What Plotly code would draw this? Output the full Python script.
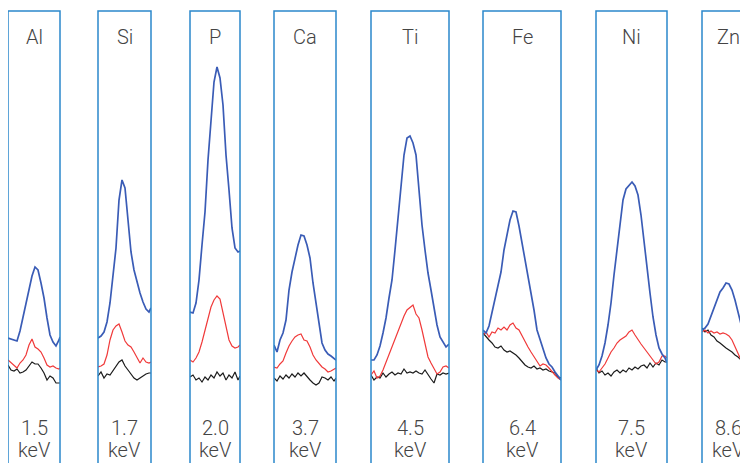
import plotly.graph_objects as go

# Elements, line energies and window widths (channels) for each panel
elements = ["Al", "Si", "P", "Ca", "Ti", "Fe", "Ni", "Zn"]
energies = ["1.5", "1.7", "2.0", "3.7", "4.5", "6.4", "7.5", "8.6"]
window_width = [52, 53, 50, 62, 78, 78, 71, 52]
visible_width = [52, 53, 50, 62, 78, 78, 71, 46]

# Channel sample positions within each window
channels = {
    "Al": list(range(0, 52, 3)) + [52],
    "Si": list(range(0, 53, 3)) + [53],
    "P": list(range(0, 50, 3)) + [50],
    "Ca": list(range(0, 62, 3)) + [62],
    "Ti": list(range(0, 79, 3)),
    "Fe": list(range(0, 79, 3)),
    "Ni": list(range(0, 71, 3)) + [71],
    "Zn": list(range(0, 46, 3)) + [46],
}

# Intensities (arbitrary units) - blue spectrum
blue = {
    "Al": [62, 61, 60, 59, 69, 82, 95, 110, 124, 133, 130, 117, 102, 82, 65, 58, 54, 60, 63],
    "Si": [62, 64, 68, 78, 97, 123, 152, 200, 220, 212, 180, 148, 130, 117, 107, 98, 91, 88, 92],
    "P": [88, 87, 97, 120, 155, 188, 240, 282, 318, 333, 322, 295, 245, 210, 172, 152, 148, 149],
    "Ca": [55, 48, 60, 67, 80, 110, 128, 142, 155, 165, 164, 155, 142, 117, 97, 75, 57, 50, 46, 44, 42, 40],
    "Ti": [40, 40, 45, 54, 67, 82, 102, 120, 150, 183, 212, 245, 262, 264, 257, 245, 210, 175, 150, 127,
           110, 93, 75, 63, 58, 53, 56],
    "Fe": [70, 67, 74, 87, 103, 115, 128, 150, 167, 180, 189, 188, 174, 158, 140, 122, 110, 90, 70, 60,
           50, 42, 36, 33, 28, 24, 20],
    "Ni": [30, 35, 44, 57, 75, 97, 125, 150, 177, 200, 211, 215, 218, 214, 205, 185, 157, 133, 107, 83,
           65, 52, 46, 42, 37],
    "Zn": [70, 72, 76, 84, 93, 100, 108, 112, 117, 116, 110, 100, 89, 76, 63, 53, 50],
}

# red spectrum
red = {
    "Al": [40, 37, 34, 32, 37, 40, 45, 55, 61, 53, 51, 48, 42, 35, 33, 34, 32, 31, 32],
    "Si": [33, 34, 36, 45, 60, 70, 74, 76, 68, 59, 55, 53, 48, 42, 37, 42, 38, 37, 38],
    "P": [40, 38, 42, 48, 58, 70, 82, 93, 100, 104, 101, 88, 72, 60, 54, 52, 53, 55],
    "Ca": [33, 32, 36, 39, 47, 54, 59, 63, 65, 66, 60, 59, 53, 45, 40, 36, 33, 31, 28, 29, 31, 32],
    "Ti": [25, 29, 22, 24, 30, 38, 45, 53, 62, 70, 78, 84, 90, 93, 95, 86, 82, 70, 55, 43,
           37, 32, 26, 28, 33, 34, 32],
    "Fe": [65, 68, 63, 68, 67, 72, 70, 73, 70, 75, 77, 72, 70, 64, 58, 53, 48, 43, 38, 34,
           36, 35, 32, 28, 25, 22, 20],
    "Ni": [30, 28, 32, 36, 42, 48, 52, 57, 60, 62, 64, 68, 70, 65, 60, 56, 52, 48, 45, 40,
           36, 38, 44, 44, 42],
    "Zn": [68, 70, 67, 69, 67, 68, 66, 67, 66, 64, 60, 53, 47, 40, 34, 29, 28],
}

# black spectrum
black = {
    "Al": [35, 30, 29, 31, 27, 28, 30, 34, 38, 36, 36, 32, 27, 20, 24, 22, 17, 17, 17],
    "Si": [24, 28, 22, 26, 25, 29, 33, 38, 40, 34, 30, 26, 22, 20, 22, 24, 26, 27, 27],
    "P": [23, 25, 20, 22, 18, 23, 20, 25, 22, 28, 24, 27, 20, 25, 22, 28, 20, 24],
    "Ca": [22, 19, 24, 21, 25, 22, 26, 23, 27, 24, 27, 23, 20, 17, 15, 17, 23, 22, 20, 23, 19, 22],
    "Ti": [25, 20, 23, 22, 27, 23, 26, 28, 25, 27, 26, 31, 27, 28, 27, 29, 27, 26, 30, 25,
           21, 17, 26, 25, 27, 26, 27],
    "Fe": [67, 63, 60, 57, 53, 52, 54, 50, 48, 49, 47, 45, 42, 38, 35, 33, 32, 34, 31, 32,
           30, 31, 29, 28, 27, 23, 22],
    "Ni": [32, 27, 29, 25, 27, 24, 28, 30, 27, 30, 28, 32, 30, 33, 31, 34, 35, 32, 37, 33,
           37, 35, 40, 38, 38],
    "Zn": [72, 68, 70, 65, 63, 59, 57, 54, 52, 50, 48, 45, 43, 40, 38, 35, 34],
}

# Layout (pixels inside the figure; the page adds an 8px body margin)
W, H = 740, 455
panel_left = [0, 90, 182, 266, 363, 475, 588, 694]
panel_top = 3
name_y, num_y, unit_y = 29, 420, 442
y_range = [-63, 392]

BLUE = "#3a5cb6"
RED = "#f03a3a"
BLACK = "#1c1c1c"
FRAME = "#2b88cc"
TEXT = "#444444"
FONT = "Roboto"

fig = go.Figure()
layout = dict(
    width=W, height=H,
    margin=dict(l=0, r=0, t=0, b=0),
    paper_bgcolor="white", plot_bgcolor="rgba(0,0,0,0)",
    showlegend=False,
    yaxis=dict(domain=[0, 1], range=y_range, visible=False, fixedrange=True),
)
shapes = []
annotations = []

for i, el in enumerate(elements):
    n = i + 1
    xname = "x" if n == 1 else f"x{n}"
    axkey = "xaxis" if n == 1 else f"xaxis{n}"
    left = panel_left[i]
    right = min(left + visible_width[i], W)
    layout[axkey] = dict(
        domain=[left / W, right / W], range=[0, visible_width[i]],
        anchor="y", visible=False, fixedrange=True,
    )
    for series, color, width in ((black, BLACK, 1.2), (red, RED, 1.2), (blue, BLUE, 1.7)):
        fig.add_trace(go.Scatter(
            x=channels[el], y=series[el], xaxis=xname, yaxis="y",
            mode="lines", line=dict(color=color, width=width, shape="linear"),
            hoverinfo="skip", cliponaxis=True,
        ))
    # panel frame (open at the bottom, beyond the page)
    frac = window_width[i] / visible_width[i]
    shapes.append(dict(
        type="rect", xref=f"{xname} domain", yref="paper",
        x0=0, x1=frac, y0=-0.2, y1=1 - panel_top / H,
        line=dict(color=FRAME, width=1.5), fillcolor="rgba(0,0,0,0)", layer="above",
    ))
    cx = window_width[i] / 2
    for txt, ty in ((el, name_y), (energies[i], num_y), ("keV", unit_y)):
        annotations.append(dict(
            text=txt, xref=xname, yref="paper", x=cx, y=1 - ty / H,
            showarrow=False, xanchor="center", yanchor="middle",
            font=dict(family=FONT, size=20, color=TEXT, weight=300),
        ))

layout["shapes"] = shapes
layout["annotations"] = annotations
fig.update_layout(**layout)
fig.write_html("out.html")
